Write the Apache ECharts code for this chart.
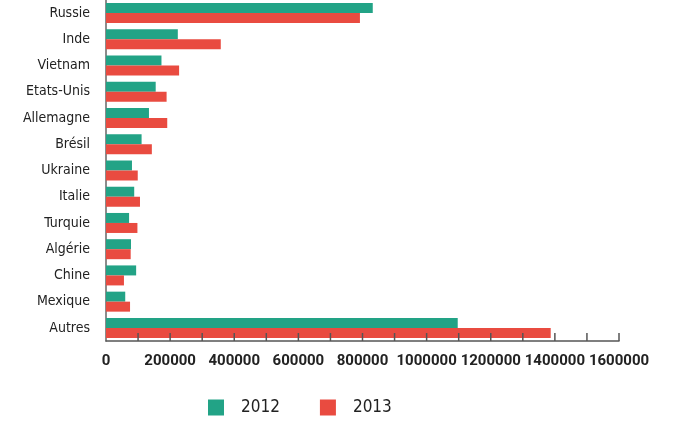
<!DOCTYPE html>
<html>
<head>
<meta charset="utf-8">
<script src="https://cdn.jsdelivr.net/npm/echarts@6/dist/echarts.min.js"></script>
<style>
  html, body { margin: 0; padding: 0; background: #fff; }
  #chart { width: 675px; height: 421px; }
</style>
</head>
<body>
<div id="chart"></div>
<script>
var categories = ["Russie", "Inde", "Vietnam", "Etats-Unis", "Allemagne", "Brésil", "Ukraine",
  "Italie", "Turquie", "Algérie", "Chine", "Mexique", "Autres"];
var values2012 = [832000, 224000, 173000, 155000, 134000, 111000, 81000,
  88000, 72000, 78000, 94000, 60000, 1097000];
var values2013 = [792000, 358000, 228000, 189000, 191000, 143000, 99000,
  106000, 98000, 77000, 56000, 75000, 1387000];

var font = "'DejaVu Sans Condensed', sans-serif";

var chart = echarts.init(document.getElementById("chart"));

chart.setOption({
  animation: false,
  textStyle: { fontFamily: font },
  grid: {
    left: 106,
    right: 56,
    top: 0,
    bottom: 80,
    containLabel: false,
    outerBoundsMode: "none"
  },
  legend: {
    left: 208,
    top: 399,
    padding: 0,
    itemWidth: 16,
    itemHeight: 16,
    itemGap: 40,
    icon: "rect",
    textStyle: {
      fontFamily: font,
      fontSize: 17,
      color: "#222",
      padding: [0, 0, 0, 12]
    },
    data: ["2012", "2013"]
  },
  xAxis: {
    type: "value",
    min: 0,
    max: 1600000,
    interval: 200000,
    axisLine: {
      show: true,
      lineStyle: { color: "#555", width: 1.5 }
    },
    axisTick: { show: false },
    splitLine: { show: false },
    axisLabel: {
      margin: 13,
      hideOverlap: false,
      showMaxLabel: true,
      fontFamily: "Roboto, sans-serif",
      fontSize: 15,
      fontWeight: "bold",
      color: "#222",
      formatter: function (v) { return String(v); }
    }
  },
  yAxis: {
    type: "category",
    inverse: true,
    data: categories,
    axisLine: {
      show: true,
      lineStyle: { color: "#666", width: 1.5 }
    },
    axisTick: { show: false },
    axisLabel: {
      margin: 16,
      fontFamily: font,
      fontSize: 14,
      color: "#222"
    }
  },
  series: [
    {
      name: "2012",
      type: "bar",
      data: values2012,
      barWidth: 10,
      barGap: "0%",
      itemStyle: { color: "#22a386" }
    },
    {
      name: "2013",
      type: "bar",
      data: values2013,
      barWidth: 10,
      barGap: "0%",
      itemStyle: { color: "#e94b40" }
    }
  ]
});

// tick marks every 100000, pointing up from the axis
var grid = chart.getModel().getComponent("grid").coordinateSystem.getRect();
var ticks = [];
for (var v = 100000; v <= 1600000; v += 100000) {
  var x = chart.convertToPixel({ xAxisIndex: 0 }, v);
  ticks.push({
    type: "line",
    shape: { x1: x, y1: grid.y + grid.height, x2: x, y2: grid.y + grid.height - 8 },
    style: { stroke: "#555", lineWidth: 1.5 },
    z: 10
  });
}
chart.setOption({ graphic: ticks });
</script>
</body>
</html>
